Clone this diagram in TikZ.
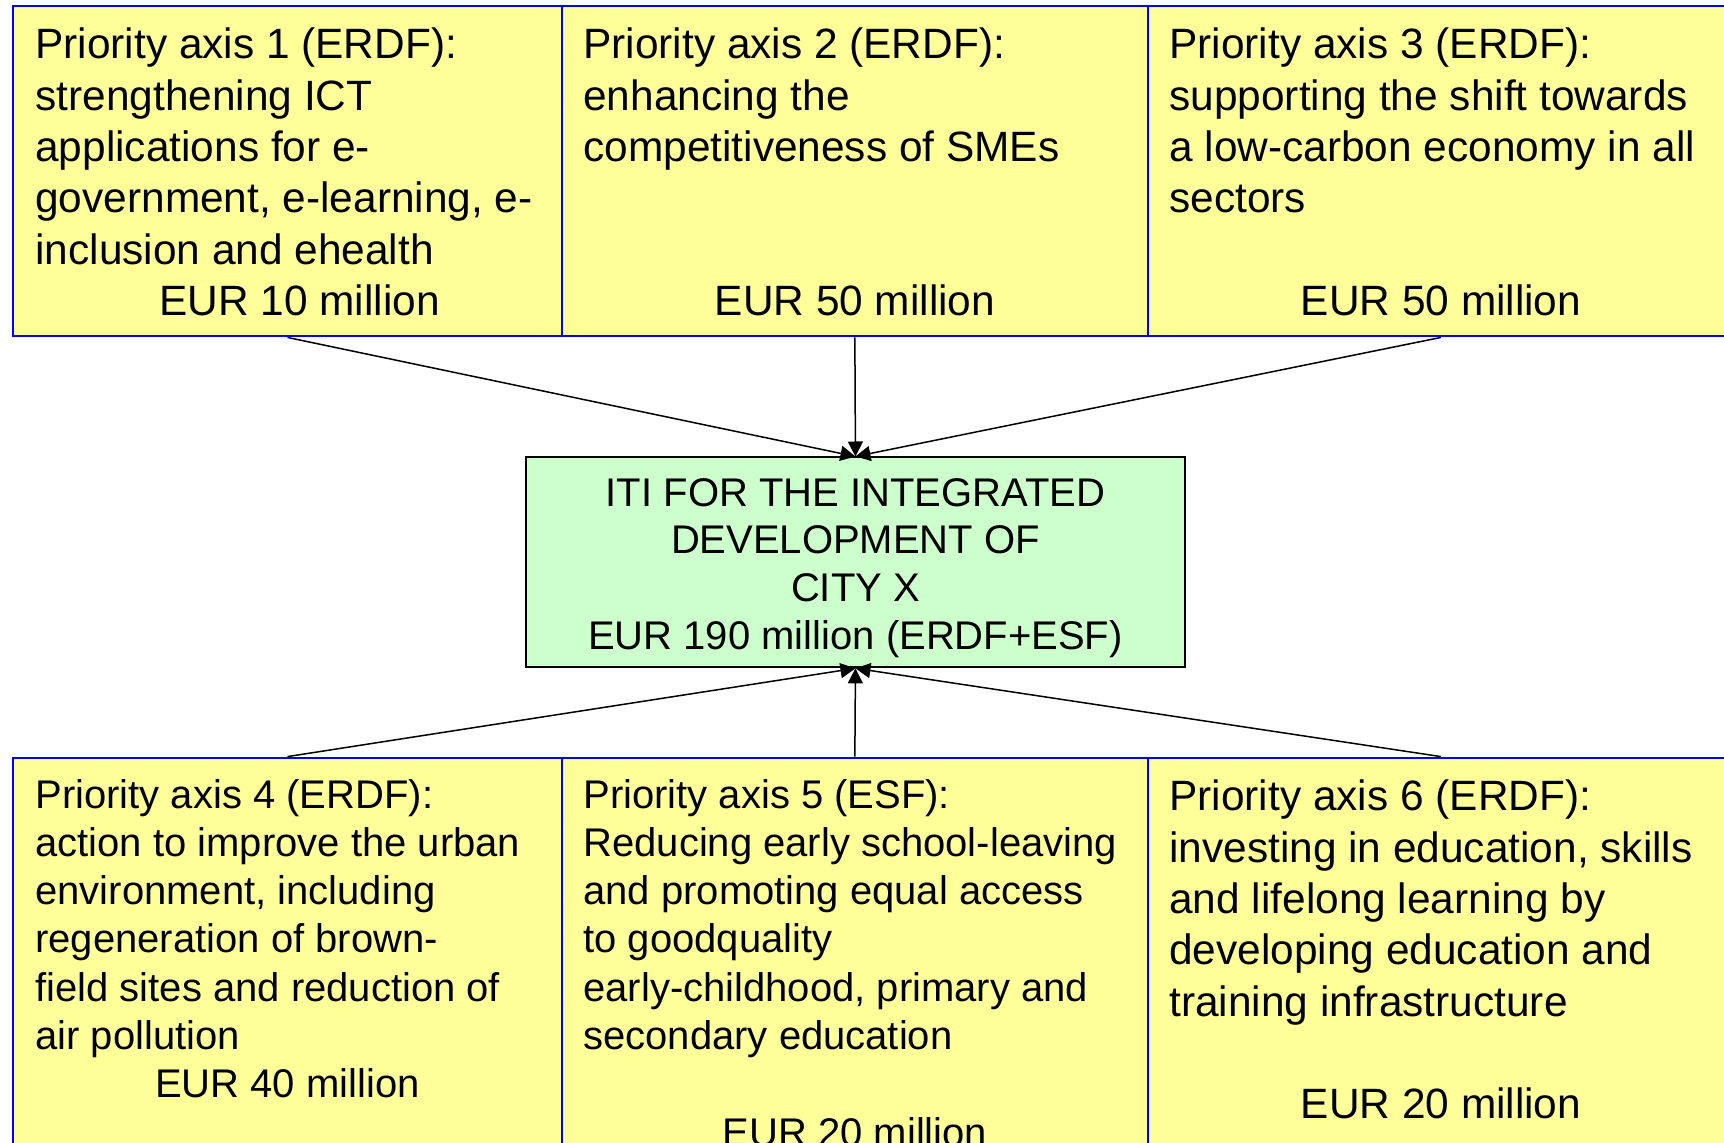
\documentclass[tikz,border=0pt]{standalone}
\usepackage{fontspec}
\setmainfont{Liberation Sans}
\usetikzlibrary{arrows.meta}
\definecolor{axisfill}{HTML}{FFFF99}
\definecolor{axisline}{HTML}{0000FF}
\definecolor{itifill}{HTML}{CCFFCC}

\begin{document}
\begin{tikzpicture}[x=0.5pt,y=-0.5pt,
  axisbox/.style={draw=axisline, fill=axisfill, line width=1pt, inner sep=0pt, rectangle},
  toprow/.style={axisbox, minimum height=165.45pt},
  bottomrow/.style={axisbox, minimum height=221.2pt},
  itibox/.style={draw=black, fill=itifill, line width=0.9pt, inner sep=0pt,
                 minimum width=329.85pt, minimum height=105pt},
  bigtxt/.style={inner sep=0pt, font=\fontsize{21.2}{25.6}\selectfont},
  smalltxt/.style={inner sep=0pt, font=\fontsize{20}{24}\selectfont},
  feed/.style={line width=0.75pt, -{Triangle[length=7.5pt,width=7.5pt]}}
]
\clip (0,0) rectangle (1724,1143);
\fill[white] (0,0) rectangle (1724,1143);

% priority axis boxes, upper row
\node[toprow, minimum width=274.3pt]  (p1) at (287.5,171) {};
\node[toprow, minimum width=293.05pt] (p2) at (854.85,171) {};
\node[toprow, minimum width=293pt]    (p3) at (1440.9,171) {};

% priority axis boxes, lower row
\node[bottomrow, minimum width=274.3pt]  (p4) at (287.5,978.8) {};
\node[bottomrow, minimum width=293.05pt] (p5) at (854.85,978.8) {};
\node[bottomrow, minimum width=293pt]    (p6) at (1440.9,978.8) {};

% the integrated territorial investment
\node[itibox] (iti) at (855.45,562.4) {};

% connectors
\draw[feed] (p1.south) -- (iti.north);
\draw[feed] (p2.south) -- (iti.north);
\draw[feed] (p3.south) -- (iti.north);
\draw[feed] (p4.north) -- (iti.south);
\draw[feed] (p5.north) -- (iti.south);
\draw[feed] (p6.north) -- (iti.south);

% texts of the upper row
\foreach \t [count=\i from 0] in {Priority axis 1 (ERDF):, strengthening ICT,
    applications for e-, {government, e-learning, e-}, inclusion and ehealth}
  \node[bigtxt, anchor=base west] (a1-\i) at (35,59+\i*51.3) {\t};
\node[bigtxt, anchor=base] (m1) at (299.5,315.5) {EUR 10 million};

\foreach \t [count=\i from 0] in {Priority axis 2 (ERDF):, enhancing the,
    competitiveness of SMEs}
  \node[bigtxt, anchor=base west] (a2-\i) at (583,59+\i*51.3) {\t};
\node[bigtxt, anchor=base] (m2) at (855,315.5) {EUR 50 million};

\foreach \t [count=\i from 0] in {Priority axis 3 (ERDF):, supporting the shift towards,
    a low-carbon economy in all, sectors}
  \node[bigtxt, anchor=base west] (a3-\i) at (1169,59+\i*51.3) {\t};
\node[bigtxt, anchor=base] (m3) at (1441,315.5) {EUR 50 million};

% texts of the lower row
\foreach \t [count=\i from 0] in {Priority axis 4 (ERDF):, action to improve the urban,
    {environment, including}, regeneration of brown-, field sites and reduction of,
    air pollution}
  \node[smalltxt, anchor=base west] (a4-\i) at (35,808+\i*48.3) {\t};
\node[smalltxt, anchor=base] (m4) at (287.5,1097.8) {EUR 40 million};

\foreach \t [count=\i from 0] in {Priority axis 5 (ESF):, Reducing early school-leaving,
    and promoting equal access, to goodquality, {early-childhood, primary and},
    secondary education}
  \node[smalltxt, anchor=base west] (a5-\i) at (583,808+\i*48.3) {\t};
\node[smalltxt, anchor=base] (m5) at (855,1146) {EUR 20 million};

\foreach \t [count=\i from 0] in {Priority axis 6 (ERDF):, {investing in education, skills},
    and lifelong learning by, developing education and, training infrastructure}
  \node[bigtxt, anchor=base west] (a6-\i) at (1169,811+\i*51.3) {\t};
\node[bigtxt, anchor=base] (m6) at (1441,1118.5) {EUR 20 million};

% text of the central box
\node[smalltxt, anchor=base] (c0) at (855.5,507) {ITI FOR THE INTEGRATED};
\node[smalltxt, anchor=base] (c1) at (855.5,554) {DEVELOPMENT OF};
\node[smalltxt, anchor=base] (c2) at (855.5,602) {CITY X};
\node[smalltxt, anchor=base] (c3) at (855.5,650) {EUR 190 million (ERDF+ESF)};
\end{tikzpicture}
\end{document}
